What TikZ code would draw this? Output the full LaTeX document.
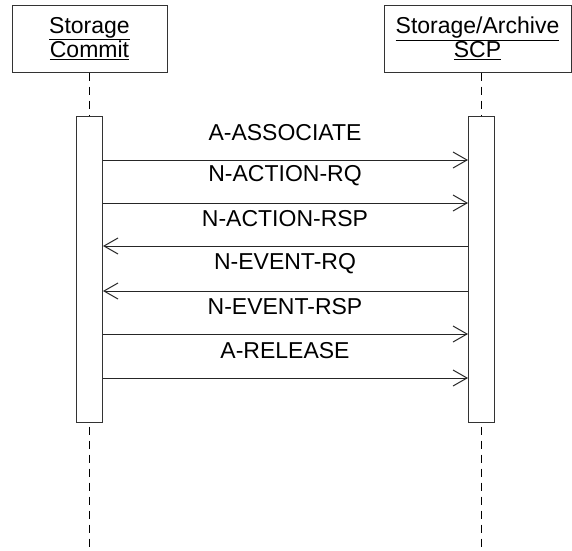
\documentclass[tikz,border=0pt]{standalone}
\usepackage{fontspec}
\setmainfont{Liberation Sans}
\usetikzlibrary{arrows.meta}

\begin{document}
\begin{tikzpicture}[x=1pt,y=-1pt,
    line width=1pt,
    >={Straight Barb[length=14pt,width=16pt]},
    font=\fontsize{23}{24}\selectfont,
    head/.style = {
      draw = black!80,
      align = center,
      minimum height = 67pt,
      inner sep = 0pt
    },
    activation/.style = {
      draw = black!80,
      minimum width = 26pt,
      minimum height = 306pt,
      inner sep = 0pt
    },
    lifeline/.style = {
      draw = black,
      line width = 1.3pt,
      dash pattern = on 8pt off 6pt
    },
    msgarrow/.style = {
      ->,
      draw = black!85
    },
    msg/.style = {
      inner sep = 0pt
    }
  ]
  \useasboundingbox[fill=white] (0,0) rectangle (572,550);

  \node[head, minimum width=155pt] (commit) at (89.5,38.5)
    {\underline{Storage}\\\underline{Commit}};
  \node[head, minimum width=187pt] (scp) at (477.5,38.5)
    {\underline{Storage/Archive}\\\underline{SCP}};

  \node[activation] (actL) at (89.5,269) {};
  \node[activation] (actR) at (481.5,269) {};

  \coordinate (endL) at (89.5,550);
  \coordinate (endR) at (481.5,550);

  % lifelines
  \draw[lifeline] (commit.south -| actL) -- (actL.north);
  \draw[lifeline] (scp.south -| actR) -- (actR.north);
  \draw[lifeline] ([yshift=-4pt]actL.south) -- (endL);
  \draw[lifeline] ([yshift=-4pt]actR.south) -- (endR);

  % messages
  \foreach \y/\lbl/\from/\to [count=\i] in {
      160/A-ASSOCIATE/actL.east/actR.west,
      203/N-ACTION-RQ/actL.east/actR.west,
      246/N-ACTION-RSP/actR.west/actL.east,
      291/N-EVENT-RQ/actR.west/actL.east,
      334/N-EVENT-RSP/actL.east/actR.west,
      378/A-RELEASE/actL.east/actR.west}
  {
    \node[msg] (m\i) at (285,\y-27) {\lbl};
    \draw[msgarrow] (\from |- 0,\y) -- (\to |- 0,\y);
  }
\end{tikzpicture}
\end{document}
